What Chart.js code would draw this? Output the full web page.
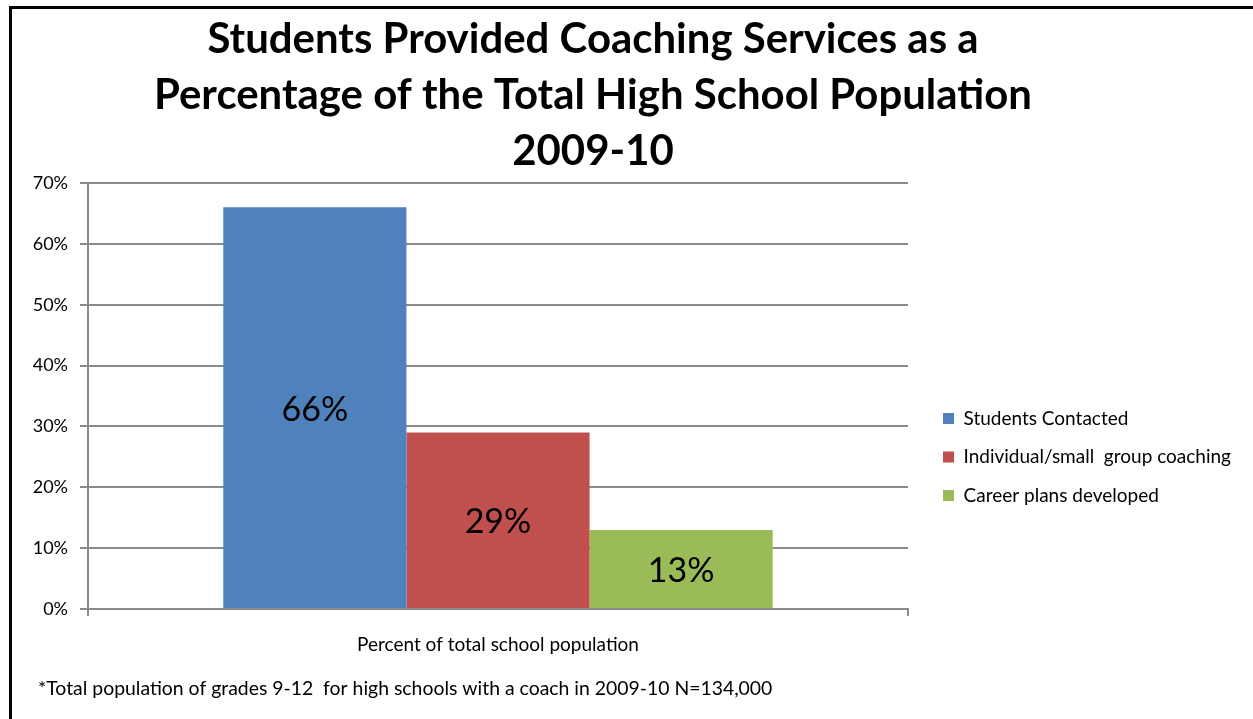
<!DOCTYPE html>
<html>
<head>
<meta charset="utf-8">
<script src="https://cdn.jsdelivr.net/npm/chart.js@4.4.1/dist/chart.umd.min.js"></script>
<style>
    html, body { margin: 0; padding: 0; background: #fff; overflow: hidden; }
    #wrap { position: relative; width: 1253px; height: 719px; }
    #frame {
        position: absolute; left: 9px; top: 6px; right: -10px; bottom: -10px;
        border-left: 3px solid #000; border-top: 3px solid #000; pointer-events: none;
    }
</style>
</head>
<body>
<div id="wrap">
    <canvas id="chart" width="1253" height="719"></canvas>
    <div id="frame"></div>
</div>
<script>
const titleLines = [
    'Students Provided Coaching Services as a',
    'Percentage of the Total High School Population',
    '2009-10'
];
const categories = ['Percent of total school population'];
const seriesNames = ['Students Contacted', 'Individual/small  group coaching', 'Career plans developed'];
const seriesValues = [66, 29, 13];
const seriesColors = ['#4F81BD', '#C0504D', '#9BBB59'];
const yMax = 70;
const yStep = 10;
const footnote = '*Total population of grades 9-12  for high schools with a coach in 2009-10 N=134,000';

const gridGray = '#8a8a8a';
const fontFamily = 'Lato, "Open Sans", sans-serif';

// plot box of the original picture
const plotBox = { left: 88, top: 183, right: 908, bottom: 609 };

// three-line title and the footnote, placed like the original
const textPlugin = {
    id: 'frameText',
    afterDraw(chart) {
        const ctx = chart.ctx;
        ctx.save();
        ctx.font = 'bold 42px ' + fontFamily;
        ctx.fillStyle = '#000';
        ctx.textAlign = 'center';
        ctx.textBaseline = 'alphabetic';
        const widest = Math.max(...titleLines.map(t => ctx.measureText(t).width));
        const squeeze = Math.min(1, 878 / widest);
        titleLines.forEach((line, i) => {
            ctx.save();
            ctx.translate(593, 53 + i * 56);
            ctx.scale(squeeze, 1);
            ctx.fillText(line, 0, 0);
            ctx.restore();
        });

        ctx.font = '19.4px ' + fontFamily;
        ctx.textAlign = 'left';
        ctx.textBaseline = 'middle';
        ctx.fillText(footnote, 38, 689);
        ctx.restore();
    }
};

// value labels in the middle of each bar
const barLabels = {
    id: 'barLabels',
    afterDatasetsDraw(chart) {
        const ctx = chart.ctx;
        ctx.save();
        ctx.font = '34px ' + fontFamily;
        ctx.fillStyle = '#000';
        ctx.textAlign = 'center';
        ctx.textBaseline = 'middle';
        chart.data.datasets.forEach((ds, i) => {
            const bar = chart.getDatasetMeta(i).data[0];
            ctx.fillText(ds.data[0] + '%', bar.x, (bar.y + bar.base) / 2 + 2);
        });
        ctx.restore();
    }
};

const datasets = seriesNames.map((name, i) => ({
    label: name,
    data: [seriesValues[i]],
    backgroundColor: seriesColors[i],
    borderWidth: 0,
    categoryPercentage: 0.67,
    barPercentage: 1.0
}));

const ctx = document.getElementById('chart').getContext('2d');
const chart = new Chart(ctx, {
    type: 'bar',
    data: { labels: categories, datasets: datasets },
    plugins: [textPlugin, barLabels],
    options: {
        responsive: false,
        animation: false,
        layout: { padding: { top: 183, left: 10, right: 0, bottom: 62 } },
        plugins: {
            tooltip: { enabled: false },
            legend: {
                position: 'right',
                fullSize: false,
                maxWidth: 420,
                // empty title only pushes the entries down to where they sit in the original
                title: { display: true, text: '', padding: { top: 121, bottom: 0 }, font: { size: 1 } },
                labels: {
                    boxWidth: 11,
                    boxHeight: 11,
                    padding: 19.5,
                    color: '#000',
                    font: { family: fontFamily, size: 19 }
                }
            }
        },
        scales: {
            x: {
                grid: { display: true, drawOnChartArea: false, drawTicks: true, tickLength: 7, color: gridGray, lineWidth: 2 },
                border: { display: true, color: gridGray, width: 2 },
                ticks: { color: '#000', padding: 17.6, font: { family: fontFamily, size: 19 } }
            },
            y: {
                min: 0,
                max: yMax,
                ticks: {
                    stepSize: yStep,
                    padding: 12,
                    color: '#000',
                    font: { family: fontFamily, size: 18 },
                    callback: v => v + '%'
                },
                grid: { color: gridGray, lineWidth: 2, tickLength: 8 },
                border: { display: true, color: gridGray, width: 2 },
                afterFit: s => { s.width = 78; }
            },
            // narrow empty strip between plot and legend
            gap: {
                type: 'linear',
                position: 'right',
                display: true,
                grid: { display: false },
                border: { display: false },
                ticks: { display: false },
                afterFit: s => { s.width = 15.5; }
            }
        }
    }
});

// nudge the outer padding so the plot box lands where the original has it
const pad = chart.options.layout.padding;
pad.top -= chart.chartArea.top - plotBox.top;
pad.right += chart.chartArea.right - plotBox.right;
pad.bottom -= plotBox.bottom - chart.chartArea.bottom;
chart.update();
</script>
</body>
</html>
